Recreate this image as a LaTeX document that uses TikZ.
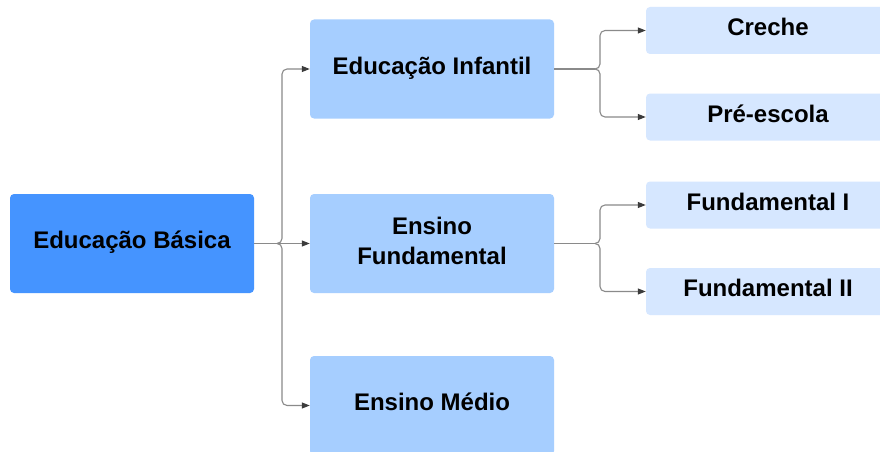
\documentclass[tikz,border=0pt]{standalone}
\usepackage{fontspec}
\setmainfont{Liberation Sans}
\usetikzlibrary{arrows.meta}
\definecolor{lvlone}{RGB}{69,148,255}
\definecolor{lvltwo}{RGB}{166,206,255}
\definecolor{lvlthree}{RGB}{214,231,255}
\definecolor{linegray}{RGB}{138,138,138}
\definecolor{tipgray}{RGB}{60,60,60}
\tikzset{
  box/.style={rectangle, rounded corners=4pt, minimum width=244pt, minimum height=99pt,
    inner sep=0pt, align=center, font=\fontsize{24}{30}\selectfont\bfseries, text=black,
    text height=18pt, text depth=7.4pt},
  twolines/.style={text height=47pt, text depth=6pt},
  boxone/.style={box, fill=lvlone},
  boxtwo/.style={box, fill=lvltwo},
  boxthree/.style={box, fill=lvlthree, minimum height=47pt},
  conn/.style={draw=linegray, line width=1.1pt},
  arr/.style={conn, rounded corners=5pt, -{Triangle[length=8pt,width=6pt,color=tipgray]}}
}
\begin{document}
\begin{tikzpicture}[x=1pt,y=-1pt]
\useasboundingbox (0,0) rectangle (880,452);
\clip (0,0) rectangle (880,452);
\fill[white] (0,0) rectangle (880,452);
% level 1
\node[boxone] (basica) at (132,243.5) {Educação Básica};
% level 2
\node[boxtwo] (infantil) at (432,69) {Educação Infantil};
\node[boxtwo, twolines] (fund) at (432,243.5) {Ensino\\Fundamental};
\node[boxtwo] (medio) at (432,405.5) {Ensino Médio};
% level 3
\node[boxthree] (creche) at (768,30.5) {Creche};
\node[boxthree] (pre) at (768,117) {Pré-escola};
\node[boxthree] (fundi) at (768,205) {Fundamental I};
\node[boxthree] (fundii) at (768,291.5) {Fundamental II};
% junctions
\coordinate (ja) at (277,243.5);
\coordinate (jb) at (595,69);
\coordinate (jc) at (595,243.5);
% connectors from Educação Básica
\draw[conn] (basica.east) -- (ja);
\draw[arr] (ja) -- ([xshift=5pt]ja) |- (infantil.west);
\draw[arr] (ja) -- (fund.west);
\draw[arr] (ja) -- ([xshift=5pt]ja) |- (medio.west);
% connectors from Educação Infantil
\draw[conn] (infantil.east) -- (jb);
\draw[arr] (jb) -- ([xshift=5pt]jb) |- (creche.west);
\draw[arr] (jb) -- ([xshift=5pt]jb) |- (pre.west);
% connectors from Ensino Fundamental
\draw[conn] (fund.east) -- (jc);
\draw[arr] (jc) -- ([xshift=5pt]jc) |- (fundi.west);
\draw[arr] (jc) -- ([xshift=5pt]jc) |- (fundii.west);
\end{tikzpicture}
\end{document}
